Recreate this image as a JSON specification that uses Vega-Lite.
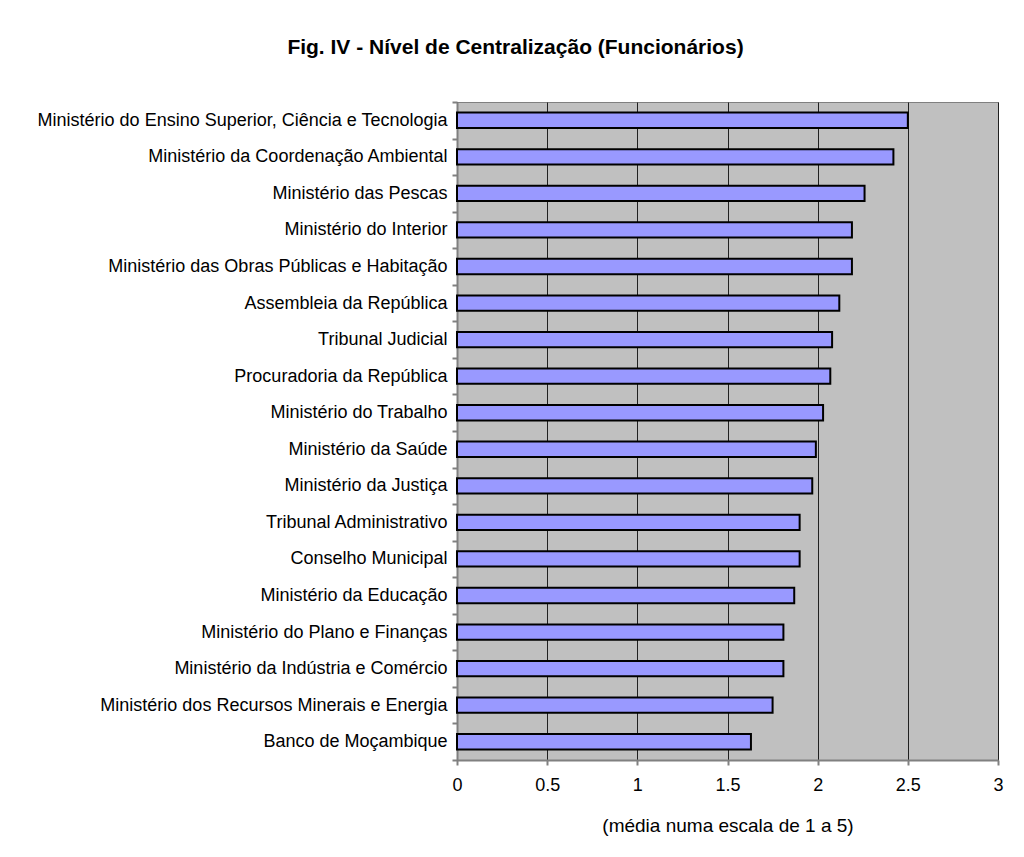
{
  "$schema": "https://vega.github.io/schema/vega-lite/v6.json",
  "autosize": {"type": "none"},
  "padding": {"left": 457, "top": 102, "right": 26, "bottom": 97},
  "width": 541,
  "height": 658,
  "background": "white",
  "title": {
    "text": "Fig. IV - Nível de Centralização (Funcionários)",
    "font": "Liberation Sans",
    "fontSize": 21,
    "fontWeight": "bold",
    "color": "black",
    "anchor": "middle",
    "frame": "group",
    "dx": -212,
    "offset": 35
  },
  "data": {
    "values": [
      {"entidade": "Ministério do Ensino Superior, Ciência e Tecnologia", "valor": 2.50},
      {"entidade": "Ministério da Coordenação Ambiental", "valor": 2.42},
      {"entidade": "Ministério das Pescas", "valor": 2.26},
      {"entidade": "Ministério do Interior", "valor": 2.19},
      {"entidade": "Ministério das Obras Públicas e Habitação", "valor": 2.19},
      {"entidade": "Assembleia da República", "valor": 2.12},
      {"entidade": "Tribunal Judicial", "valor": 2.08},
      {"entidade": "Procuradoria da República", "valor": 2.07},
      {"entidade": "Ministério do Trabalho", "valor": 2.03},
      {"entidade": "Ministério da Saúde", "valor": 1.99},
      {"entidade": "Ministério da Justiça", "valor": 1.97},
      {"entidade": "Tribunal Administrativo", "valor": 1.90},
      {"entidade": "Conselho Municipal", "valor": 1.90},
      {"entidade": "Ministério da Educação", "valor": 1.87},
      {"entidade": "Ministério do Plano e Finanças", "valor": 1.81},
      {"entidade": "Ministério da Indústria e Comércio", "valor": 1.81},
      {"entidade": "Ministério dos Recursos Minerais e Energia", "valor": 1.75},
      {"entidade": "Banco de Moçambique", "valor": 1.63}
    ]
  },
  "mark": {"type": "bar", "fill": "#9999FF", "stroke": "black", "strokeWidth": 2, "height": {"band": 0.42}},
  "encoding": {
    "y": {
      "field": "entidade",
      "type": "nominal",
      "sort": null,
      "scale": {"paddingInner": 0, "paddingOuter": 0},
      "axis": {
        "title": null,
        "tickBand": "extent",
        "grid": false,
        "domain": true,
        "domainColor": "#808080",
        "domainWidth": 2,
        "tickColor": "#808080",
        "tickWidth": 2,
        "tickSize": 5,
        "labelPadding": 5,
        "labelFont": "Liberation Sans",
        "labelFontSize": 18,
        "labelColor": "black",
        "labelLimit": 500
      }
    },
    "x": {
      "field": "valor",
      "type": "quantitative",
      "scale": {"domain": [0, 3], "nice": false, "zero": true},
      "axis": {
        "values": [0, 0.5, 1, 1.5, 2, 2.5, 3],
        "format": "~g",
        "title": "(média numa escala de 1 a 5)",
        "titleFont": "Liberation Sans",
        "titleFontSize": 19,
        "titleFontWeight": "normal",
        "titleColor": "black",
        "titlePadding": 22,
        "grid": true,
        "gridColor": "#202020",
        "gridWidth": 1,
        "gridOpacity": 1,
        "domainColor": "#808080",
        "domainWidth": 2,
        "tickColor": "#808080",
        "tickWidth": 2,
        "tickSize": 5,
        "labelPadding": 11,
        "labelFont": "Liberation Sans",
        "labelFontSize": 18,
        "labelColor": "black",
        "labelFlush": false
      }
    }
  },
  "config": {
    "view": {"fill": "#C0C0C0", "stroke": "#808080", "strokeWidth": 1}
  }
}
